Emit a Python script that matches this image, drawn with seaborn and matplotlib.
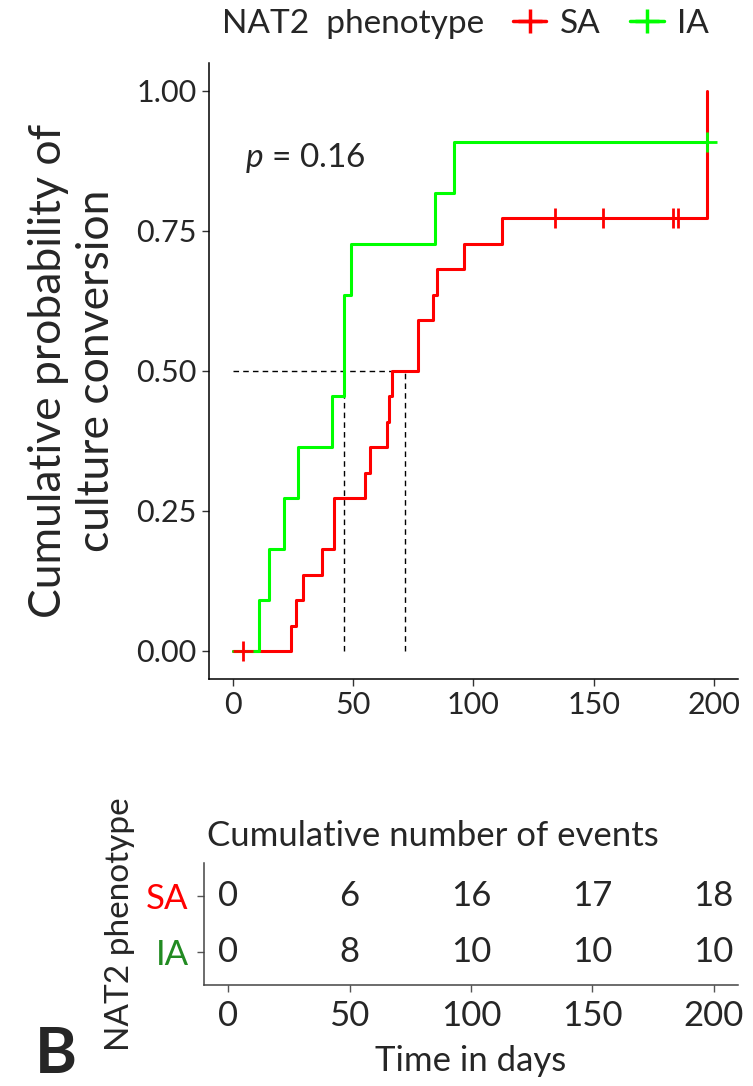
import numpy as np
import pandas as pd
import matplotlib
matplotlib.use("Agg")
import matplotlib.pyplot as plt
import seaborn as sns
from matplotlib.lines import Line2D

# ---------------- data ----------------
groups = ["SA", "IA"]
sa_time = [4, 24, 26, 29, 37, 42, 42, 55, 57, 64, 65, 66, 77, 77, 83, 85, 96, 112,
           134, 154, 183, 185, 197]
sa_event = [0, 1, 1, 1, 1, 1, 1, 1, 1, 1, 1, 1, 1, 1, 1, 1, 1, 1,
            0, 0, 0, 0, 1]
ia_time = [11, 15, 21, 27, 41, 46, 46, 49, 84, 92, 197]
ia_event = [1, 1, 1, 1, 1, 1, 1, 1, 1, 1, 0]
p_value = "0.16"
table_times = [0, 50, 100, 150, 200]
x_ticks = [0, 50, 100, 150, 200]
y_ticks = [0.0, 0.25, 0.5, 0.75, 1.0]

line_colors = {"SA": "#FF0000", "IA": "#00FF00"}
label_colors = {"SA": "#FF0000", "IA": "#228B22"}

sns.set_theme(style="white")
FONT = ["Lato", "DejaVu Sans"]
plt.rcParams["font.family"] = FONT
plt.rcParams["mathtext.fontset"] = "custom"
plt.rcParams["mathtext.it"] = "Lato:italic"
plt.rcParams["mathtext.rm"] = "Lato"


def km(times, events):
    t = np.asarray(times, float)
    e = np.asarray(events, int)
    s = 1.0
    xs, ys, cx, cy = [0.0], [0.0], [], []
    for u in np.unique(t):
        n = (t >= u).sum()
        d = ((t == u) & (e == 1)).sum()
        c = ((t == u) & (e == 0)).sum()
        if d > 0:
            s *= 1 - d / n
            xs.append(u)
            ys.append(1 - s)
        if c > 0:
            cx.append(u)
            cy.append(1 - s)
    if xs[-1] < t.max():
        xs.append(t.max())
        ys.append(ys[-1])
    return xs, ys, cx, cy


def median(xs, ys):
    for i, (x, y) in enumerate(zip(xs, ys)):
        if abs(y - 0.5) < 1e-9:
            return (x + xs[i + 1]) / 2
        if y > 0.5:
            return x
    return None


data = {"SA": (sa_time, sa_event), "IA": (ia_time, ia_event)}
curve_rows, cens_rows, medians = [], [], {}
for g in groups:
    xs, ys, cx, cy = km(*data[g])
    curve_rows += [{"group": g, "time": a, "cum": b} for a, b in zip(xs, ys)]
    cens_rows += [{"group": g, "time": a, "cum": b} for a, b in zip(cx, cy)]
    medians[g] = median(xs, ys)
curves = pd.DataFrame(curve_rows)
cens = pd.DataFrame(cens_rows)

W, H = 753, 1086
fig = plt.figure(figsize=(W / 100, H / 100), dpi=100)

# ---------------- main KM plot ----------------
ax = fig.add_axes([209 / W, 1 - 679 / H, 529 / W, 616 / H])
mx = max(medians.values())
ax.plot([0, mx], [0.5, 0.5], ls=(0, (4, 3)), color="black", lw=1.0, zorder=1)
for g in groups:
    ax.plot([medians[g], medians[g]], [0, 0.5], ls=(0, (4, 3)), color="black",
            lw=1.0, zorder=1)

for g in groups:
    sns.lineplot(data=curves[curves.group == g], x="time", y="cum",
                 color=line_colors[g], drawstyle="steps-post", estimator=None,
                 lw=2.2, ax=ax, legend=False, zorder=2)
for g in groups:
    sub = cens[cens.group == g]
    sns.scatterplot(data=sub, x="time", y="cum", color=line_colors[g],
                    marker="+", s=190, linewidth=2.0, ax=ax, legend=False,
                    zorder=3)

ax.text(5, 0.88, r"$p$ = " + p_value, fontsize=24, ha="left", va="center")

ax.set_xlim(-10, 210)
ax.set_ylim(-0.05, 1.05)
ax.set_xticks(x_ticks)
ax.set_yticks(y_ticks)
ax.set_yticklabels([f"{v:.2f}" for v in y_ticks])
ax.tick_params(labelsize=22, length=5, width=1, color="#333333", pad=4,
               left=True, bottom=True)
ax.set_xlabel("")
ax.set_ylabel("Cumulative probability of\nculture conversion", fontsize=32,
              linespacing=1.2, labelpad=14)
for side in ["top", "right"]:
    ax.spines[side].set_visible(False)
for side in ["left", "bottom"]:
    ax.spines[side].set_color("black")
    ax.spines[side].set_linewidth(1.1)

# legend at top
fig.text(222 / W, 1 - 24 / H, "NAT2  phenotype", fontsize=24, ha="left",
         va="center")
handles = [Line2D([0], [0], color=line_colors[g], lw=2.5, marker="+",
                  markersize=17, mew=2.5) for g in groups]
fig.legend(handles, groups, loc="center left", bbox_to_anchor=(513 / W, 1 - 24 / H),
           ncol=2, frameon=False, fontsize=24, handlelength=1.0,
           handletextpad=0.4, columnspacing=0.9, borderaxespad=0, borderpad=0)

# ---------------- risk table ----------------
tx = fig.add_axes([204 / W, 1 - 985 / H, 534 / W, 122 / H])
row_y = {"SA": 2, "IA": 1}
for g in groups:
    t = np.asarray(data[g][0], float)
    e = np.asarray(data[g][1], int)
    for tt in table_times:
        n_ev = int(((t <= tt) & (e == 1)).sum())
        tx.text(tt, row_y[g], str(n_ev), fontsize=25, ha="center", va="center")
tx.set_xlim(-10, 210)
tx.set_ylim(0.4, 2.6)
tx.set_xticks(x_ticks)
tx.set_yticks([row_y[g] for g in groups])
tx.set_yticklabels(groups)
for lab, g in zip(tx.get_yticklabels(), groups):
    lab.set_color(label_colors[g])
tx.tick_params(labelsize=25, length=5, width=1, color="#555555", pad=6,
               left=True, bottom=True)
tx.set_xlabel("Time in days", fontsize=25, labelpad=9)
tx.set_ylabel("NAT2 phenotype", fontsize=24, labelpad=8)
tx.set_title("Cumulative number of events", fontsize=25, loc="left", pad=12,
             x=0.005)
for side in ["top", "right"]:
    tx.spines[side].set_visible(False)
for side in ["left", "bottom"]:
    tx.spines[side].set_color("#444444")
    tx.spines[side].set_linewidth(1.1)

fig.text(35 / W, 1 - 1073 / H, "B", fontsize=46, fontweight="bold",
         ha="left", va="baseline")

fig.savefig("out.png", dpi=100)
